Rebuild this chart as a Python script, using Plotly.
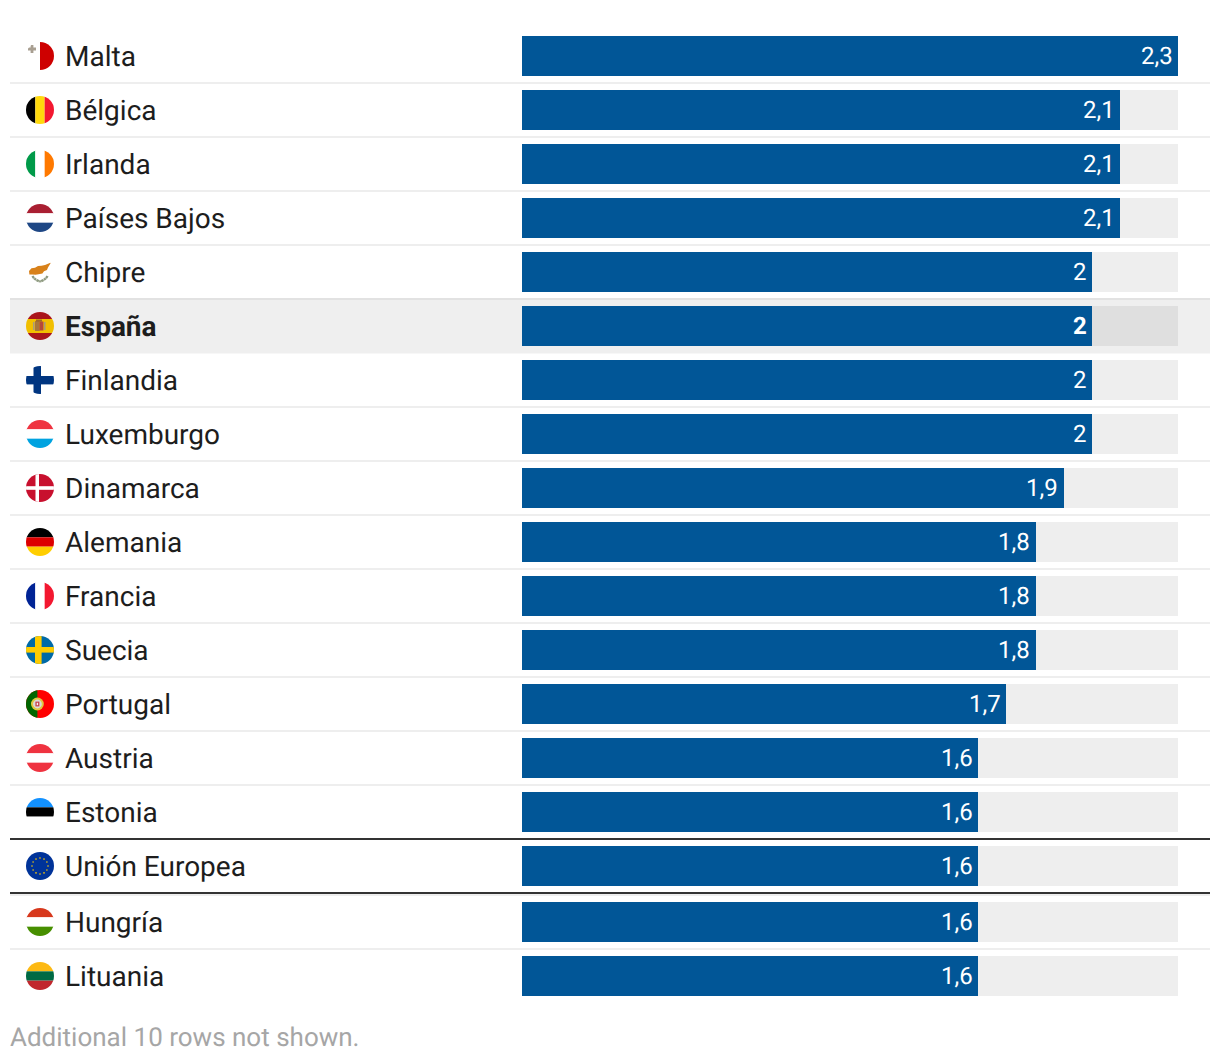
import base64
import plotly.graph_objects as go

countries = ["Malta", "Bélgica", "Irlanda", "Países Bajos", "Chipre", "España", "Finlandia",
             "Luxemburgo", "Dinamarca", "Alemania", "Francia", "Suecia", "Portugal", "Austria",
             "Estonia", "Unión Europea", "Hungría", "Lituania"]
values = [2.3, 2.097, 2.097, 2.097, 2.0, 2.0, 2.0, 2.0, 1.9, 1.802, 1.802, 1.802, 1.697, 1.6, 1.6, 1.6, 1.6, 1.6]
value_labels = ["2,3", "2,1", "2,1", "2,1", "2", "2", "2", "2", "1,9", "1,8", "1,8", "1,8",
                "1,7", "1,6", "1,6", "1,6", "1,6", "1,6"]
scale_max = 2.3
footer = "Additional 10 rows not shown."
highlight = "España"
aggregate = "Unión Europea"

W, H = 1220, 1062
ROW = 54.0
FIRST = 56.0
BLUE = "#015697"
LABEL_FONT = "Roboto"


def hbands(*cols):
    n = len(cols)
    return "".join(f'<rect x="0" y="{i*28/n}" width="28" height="{28/n}" fill="{c}"/>' for i, c in enumerate(cols))


def vbands(*cols):
    n = len(cols)
    return "".join(f'<rect y="0" x="{i*28/n}" height="28" width="{28/n}" fill="{c}"/>' for i, c in enumerate(cols))


stars = "".join(
    f'<circle cx="{14+c:.2f}" cy="{14+s:.2f}" r="0.8" fill="#FFCC00"/>'
    for c, s in [(8, 0), (6.9, 4), (4, 6.9), (0, 8), (-4, 6.9), (-6.9, 4), (-8, 0), (-6.9, -4),
                 (-4, -6.9), (0, -8), (4, -6.9), (6.9, -4)]
)

flags = {
    "Malta": '<rect x="14" width="14" height="28" fill="#CE0000"/><path d="M4.6 3h2.8v2.6H10v2.8H7.4V11H4.6V8.4H2V5.6h2.6z" fill="#A89F91"/>',
    "Bélgica": vbands("#000000", "#FFD90C", "#F31830"),
    "Irlanda": vbands("#009A49", "#FFFFFF", "#FF7900"),
    "Países Bajos": hbands("#A91F32", "#FFFFFF", "#1E4785"),
    "Chipre": '<path d="M3 13 5.5 10.2 9 9.8 12 8 15.5 7.8 19 7 25 4.4 22 9.4 21 12 18 13.2 16.4 15.6 12.5 16.2 9.5 16.8 6.5 16.4 3.4 16.6z" fill="#D8811A"/><path d="M6.5 18C8.5 21.5 12 23 14 23.4M21.5 18C19.5 21.5 16 23 14 23.4" stroke="#8E9A80" stroke-width="2.4" fill="none" stroke-dasharray="2.4 .4"/>',
    "España": hbands("#AA151B", "#F1BF00", "#F1BF00", "#AA151B") + '<rect x="9" y="9" width="4.6" height="10" fill="#A8763C"/><rect x="13.4" y="9.5" width="4" height="9" fill="#B5493A"/><rect x="10" y="7.5" width="6" height="2.2" fill="#A0682C"/><rect x="7" y="10" width="1.5" height="8" fill="#A89A80"/><rect x="18" y="10" width="1.5" height="8" fill="#A89A80"/>',
    "Finlandia": '<rect x="7.5" width="7.5" height="28" fill="#003580"/><rect y="10" width="28" height="8.4" fill="#003580"/>',
    "Luxemburgo": hbands("#EF3340", "#FFFFFF", "#00A3E0"),
    "Dinamarca": '<rect width="28" height="28" fill="#C8102E"/><rect x="9.5" width="3.5" height="28" fill="#FFFFFF"/><rect y="12.2" width="28" height="3.6" fill="#FFFFFF"/>',
    "Alemania": hbands("#000000", "#DD0000", "#FFCE00"),
    "Francia": vbands("#002395", "#FFFFFF", "#F31830"),
    "Suecia": '<rect width="28" height="28" fill="#006AA7"/><rect x="9" width="6.6" height="28" fill="#FECC00"/><rect y="11" width="28" height="5.6" fill="#FECC00"/>',
    "Portugal": '<rect width="28" height="28" fill="#FF0000"/><rect width="11.4" height="28" fill="#006600"/><circle cx="11.4" cy="14" r="6.4" fill="#E0C840"/><circle cx="11.4" cy="14" r="4.4" fill="#DADADA"/><rect x="9.4" y="11.6" width="4" height="4.8" fill="#C8404A"/><rect x="10.7" y="12.8" width="1.4" height="2.4" fill="#F2F2F2"/>',
    "Austria": hbands("#EF3340", "#FFFFFF", "#EF3340"),
    "Estonia": hbands("#1291FF", "#000000", "#FFFFFF"),
    "Unión Europea": '<rect width="28" height="28" fill="#003399"/>' + stars,
    "Hungría": hbands("#D7381C", "#FFFFFF", "#478F00"),
    "Lituania": hbands("#FDB913", "#006A44", "#C1272D"),
}


def flag_uri(body):
    svg = ('<svg xmlns="http://www.w3.org/2000/svg" width="28" height="28" viewBox="0 0 28 28">'
           '<defs><clipPath id="c"><circle cx="14" cy="14" r="14"/></clipPath></defs>'
           f'<g clip-path="url(#c)">{body}</g></svg>')
    return "data:image/svg+xml;base64," + base64.b64encode(svg.encode()).decode()


# row positions in row units; the rows after the aggregate row sit slightly lower
agg_idx = countries.index(aggregate)
row_pos = [i + (2 / ROW if i > agg_idx else 0) for i in range(len(countries))]
y_top = -FIRST / ROW
y_bot = (H - FIRST) / ROW

track_colors = ["#DFDFDF" if c == highlight else "#EEEEEE" for c in countries]

fig = go.Figure()
fig.add_bar(y=row_pos, x=[scale_max] * len(countries), orientation="h", width=40 / ROW,
            marker=dict(color=track_colors, line_width=0), hoverinfo="skip", showlegend=False)
fig.add_bar(y=row_pos, x=values, orientation="h", width=40 / ROW,
            marker=dict(color=BLUE, line_width=0), hoverinfo="skip", showlegend=False)

shapes, annotations, images = [], [], []
x0, x1 = 10 / W, 1210 / W
hi = countries.index(highlight)


def rule(y, color):
    shapes.append(dict(type="line", xref="paper", yref="y", x0=x0, x1=x1, y0=y, y1=y,
                       line=dict(color=color, width=2), layer="below"))


# highlight band
shapes.append(dict(type="rect", xref="paper", yref="y", x0=x0, x1=x1,
                   y0=row_pos[hi] - 26 / ROW, y1=row_pos[hi] + 27.5 / ROW,
                   fillcolor="#EFEFEF", line_width=0, layer="below"))

for i, c in enumerate(countries):
    y = row_pos[i]
    bottom = y + 27 / ROW
    if i < len(countries) - 1:
        if c == aggregate:
            rule(row_pos[i + 1] - 27 / ROW, "#EEEEEE")
        elif countries[i + 1] == highlight:
            rule(bottom, "#E2E2E2")
        elif countries[i + 1] != aggregate and c != highlight:
            rule(bottom, "#EEEEEE")
    bold = c == highlight
    annotations.append(dict(xref="paper", yref="y", x=65 / W, y=y, text=f"<b>{c}</b>" if bold else c,
                            xanchor="left", yanchor="middle", showarrow=False, align="left",
                            borderpad=0, borderwidth=0,
                            font=dict(family=LABEL_FONT, size=28, color="#1D1D1D")))
    annotations.append(dict(xref="x", yref="y", x=values[i], y=y,
                            text=f"<b>{value_labels[i]}</b>" if bold else value_labels[i],
                            xanchor="right", yanchor="middle", showarrow=False, xshift=-5.5, align="right",
                            borderpad=0, borderwidth=0,
                            font=dict(family=LABEL_FONT, size=24, color="#FFFFFF")))
    images.append(dict(source=flag_uri(flags[c]), xref="paper", yref="y", x=26 / W, y=y - 14 / ROW,
                       sizex=28 / W, sizey=28 / ROW, xanchor="left", yanchor="top",
                       sizing="stretch", layer="above"))

# dark rules around the aggregate row
for yy in (row_pos[agg_idx] - 27 / ROW, row_pos[agg_idx] + 27 / ROW):
    shapes.append(dict(type="line", xref="paper", yref="y", x0=x0, x1=x1, y0=yy, y1=yy,
                       line=dict(color="#333333", width=2), layer="below"))

annotations.append(dict(xref="paper", yref="paper", x=10 / W, y=1 - 1037 / H, text=footer,
                        xanchor="left", yanchor="middle", showarrow=False,
                        borderpad=0, borderwidth=0,
                        font=dict(family=LABEL_FONT, size=26, color="#A6A6A6")))

fig.update_layout(
    width=W, height=H, autosize=False, margin=dict(l=0, r=0, t=0, b=0, pad=0),
    paper_bgcolor="#FFFFFF", plot_bgcolor="rgba(0,0,0,0)", barmode="overlay", showlegend=False,
    bargap=0, separators=",.",
    xaxis=dict(domain=[522 / W, 1178 / W], range=[0, scale_max], visible=False, fixedrange=True),
    yaxis=dict(domain=[0, 1], range=[y_bot, y_top], visible=False, fixedrange=True),
    shapes=shapes, annotations=annotations, images=images,
)

fig.write_html("out.html", config=dict(displayModeBar=False),
               post_script="document.body.style.margin='0';document.body.style.overflow='hidden';"
                           "var s=document.createElement('style');s.textContent='svg text{text-rendering:geometricPrecision}';document.head.appendChild(s);")
